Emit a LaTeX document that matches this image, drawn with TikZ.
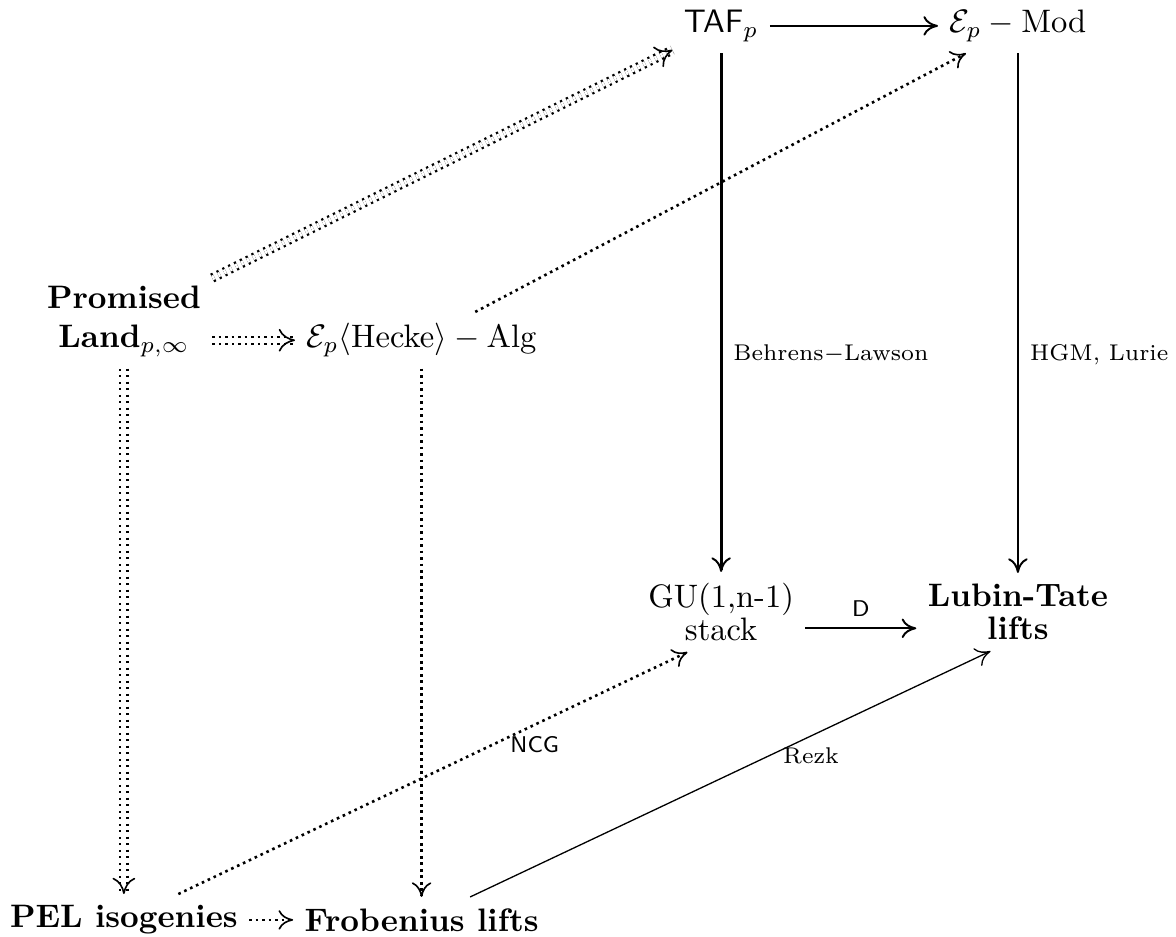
\documentclass[tikz,border=0pt]{standalone}
\usetikzlibrary{arrows.meta, decorations.markings}
\begin{document}
\begin{tikzpicture}[
  obj/.style={align=center},
  lab/.style={font=\scriptsize},
  sflab/.style={font=\scriptsize\sffamily},
  arr/.style={-{To[length=4.5pt,width=6pt,line width=0.6pt]}, line width=0.85pt},
  thinarr/.style={-{To[length=4.5pt,width=6pt]}, line width=0.4pt},
  dots/.style={-{To[length=4.5pt,width=6pt,line width=0.5pt]}, line width=0.8pt, dash pattern=on 0.8pt off 1.2pt},
  ddots/.style={double, double distance=1.5pt, line width=0.7pt, dash pattern=on 0.7pt off 1.3pt,
    postaction={decorate, decoration={markings, mark=at position 1 with {\arrow[line width=0.5pt]{To[length=5pt,width=7pt]}}}}}
]
\useasboundingbox (0,0) rectangle (12.72,-10.13);
\node[obj] (taf) at (7.80,-0.28) {$\mathsf{TAF}_p$};
\node[obj] (mod) at (11.01,-0.28) {$\mathcal{E}_p - \mathrm{Mod}$};
\node[obj] (pl) at (1.34,-3.48) {\textbf{Promised}\\\textbf{Land}$_{p,\infty}$};
\node[obj] (hecke) at (4.56,-3.68) {$\mathcal{E}_p\langle\mathrm{Hecke}\rangle - \mathrm{Alg}$};
\node[obj] (gu) at (7.80,-6.62) {GU(1,n-1)\\[-2pt]stack};
\node[obj] (lt) at (11.01,-6.62) {\textbf{Lubin-Tate}\\[-2pt]\textbf{lifts}};
\node[obj] (pel) at (1.34,-9.95) {\textbf{PEL isogenies}};
\node[obj] (frob) at (4.56,-9.95) {\textbf{Frobenius lifts}};

\draw[arr] (taf) -- (mod);
\draw[arr] (taf) -- node[pos=0.58, right, lab]{Behrens$-$Lawson} (gu);
\draw[arr] (mod) -- node[pos=0.58, right, lab]{HGM, Lurie} (lt);
\draw[arr, line width=0.6pt] ([yshift=-5pt]gu.east) -- node[above, sflab]{D} ([yshift=-5pt]lt.west);
\draw[ddots] (pl) -- (taf);
\draw[ddots] (pl.east |- hecke) -- (hecke);
\draw[ddots] (pl) -- (pel);
\draw[dots] (hecke) -- (mod);
\draw[dots] (hecke) -- (frob);
\draw[dots] (pel) -- (frob);
\draw[dots] (pel) -- node[pos=0.7, below, sflab]{NCG} (gu.230);
\draw[thinarr] (frob) -- node[pos=0.655, below, lab]{Rezk} (lt.235);
\end{tikzpicture}
\end{document}
